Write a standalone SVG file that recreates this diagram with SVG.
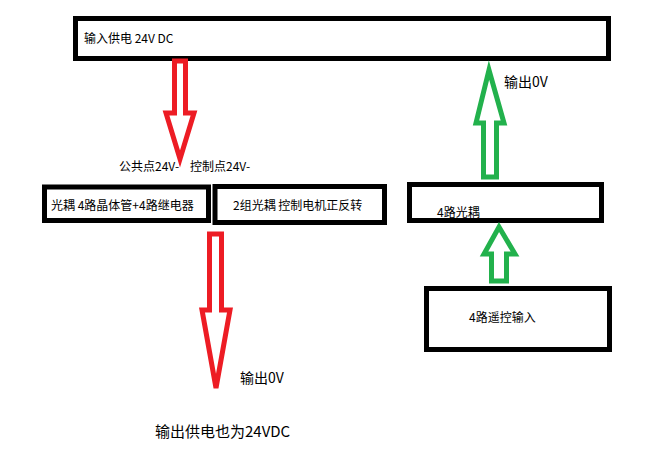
<svg xmlns="http://www.w3.org/2000/svg" width="666" height="455" viewBox="0 0 666 455">
<style>
.box{fill:#fff;stroke:#000;stroke-width:5}
.red{fill:#fff;stroke:#ED1C24;stroke-width:5;stroke-linejoin:miter}
.green{fill:#fff;stroke:#22B14C;stroke-width:5;stroke-linejoin:miter}
text{font-family:"Noto Sans CJK SC","Microsoft YaHei",sans-serif;font-size:12px;fill:#000}
.big{font-size:14px}
.bigger{font-size:15px}
</style>
<rect width="666" height="455" fill="#fff"/>
<g id="power-in">
<rect class="box" x="75.5" y="18.5" width="533" height="40"/>
<text x="84" y="43" xml:space="preserve">输入供电 24V DC</text>
</g>
<g id="optocoupler-left">
<rect class="box" x="44.5" y="187" width="164" height="33.5"/>
<text x="51" y="210" xml:space="preserve">光耦 4路晶体管+4路继电器</text>
</g>
<g id="motor-control">
<rect class="box" x="215" y="186.5" width="169.5" height="36"/>
<text x="233" y="210" xml:space="preserve">2组光耦 控制电机正反转</text>
</g>
<g id="optocoupler-right">
<rect class="box" x="409.5" y="184.5" width="192" height="36"/>
<text x="437" y="217">4路光耦</text>
</g>
<g id="remote-input">
<rect class="box" x="426.5" y="288.5" width="183" height="61"/>
<text x="469" y="322">4路遥控输入</text>
</g>
<g id="connectors">
<polygon class="red" points="174.5,61 185.5,61 185.5,113 194,113 180,159 166,113 174.5,113"/>
<polygon class="red" points="209.5,234 221.5,234 221.5,310 230,310 216,388 202,310 209.5,310"/>
<polygon class="green" points="483.5,177 496.5,177 496.5,123 504,123 489,70 476,123 483.5,123"/>
<polygon class="green" points="491.5,281 506.5,281 506.5,254 515,254 499,227 484,254 491.5,254"/>
</g>
<g id="labels">
<text x="119" y="171">公共点24V-</text>
<text x="190" y="171">控制点24V-</text>
<text class="big" x="504" y="87">输出0V</text>
<text class="big" x="240" y="383">输出0V</text>
<text class="bigger" x="155" y="437">输出供电也为24VDC</text>
</g>
</svg>
